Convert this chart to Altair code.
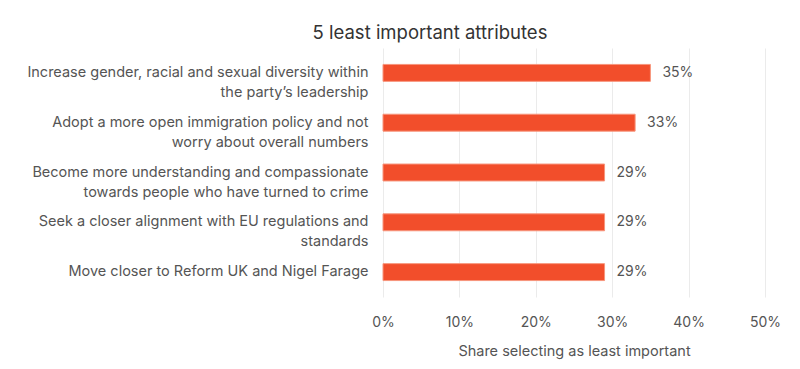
import altair as alt
import pandas as pd

categories = [
    ["Increase gender, racial and sexual diversity within", "the party\u2019s leadership"],
    ["Adopt a more open immigration policy and not", "worry about overall numbers"],
    ["Become more understanding and compassionate", "towards people who have turned to crime"],
    ["Seek a closer alignment with EU regulations and", "standards"],
    ["Move closer to Reform UK and Nigel Farage"],
]
values = [0.35, 0.33, 0.29, 0.29, 0.29]
value_labels = ["35%", "33%", "29%", "29%", "29%"]

keys = ["\n".join(c) for c in categories]
df = pd.DataFrame({"cat": keys, "value": values, "label": value_labels})

FONT = "Inter"
TXT = "#555555"

y_enc = alt.Y(
    "cat:N",
    sort=keys,
    title=None,
    scale=alt.Scale(paddingInner=0.66, paddingOuter=0.33),
    axis=alt.Axis(
        labelExpr="split(datum.label, '\\n')",
        labelFont=FONT,
        labelFontSize=14.5,
        labelColor=TXT,
        labelLimit=400,
        labelPadding=15,
        labelLineHeight=20,
        domain=False,
        ticks=False,
        grid=False,
    ),
)

bars = alt.Chart(df).mark_bar(color="#F24E2B", stroke="#F7957C", strokeWidth=1).encode(
    x=alt.X(
        "value:Q",
        scale=alt.Scale(domain=[0, 0.5]),
        title="Share selecting as least important",
        axis=alt.Axis(
            format=".0%",
            values=[0, 0.1, 0.2, 0.3, 0.4, 0.5],
            labelFont=FONT,
            labelFontSize=14,
            labelColor=TXT,
            labelPadding=18,
            labelFlush=False,
            titleFont=FONT,
            titleFontSize=14.5,
            titleFontWeight="normal",
            titleColor=TXT,
            titlePadding=15,
            domain=False,
            ticks=False,
            grid=True,
            gridColor="#ebebeb",
            gridWidth=1,
        ),
    ),
    y=y_enc,
)

texts = alt.Chart(df).mark_text(
    align="left", baseline="middle", dx=12, font=FONT, fontSize=14, color=TXT
).encode(
    x="value:Q",
    y=alt.Y("cat:N", sort=keys),
    text="label:N",
)

chart = (
    alt.layer(bars, texts)
    .properties(
        width=382,
        height=249,
        background="white",
        title=alt.TitleParams(
            "5 least important attributes",
            font=FONT,
            fontSize=18.5,
            fontWeight="normal",
            color="#333333",
            anchor="middle",
            dx=-144,
            offset=6,
        ),
        autosize=alt.AutoSizeParams(type="none"),
        padding={"left": 383, "top": 48, "right": 35, "bottom": 72},
    )
    .configure_view(strokeWidth=0, stroke="transparent")
)

chart.save("out.html", embed_options={"renderer": "svg", "actions": False})
